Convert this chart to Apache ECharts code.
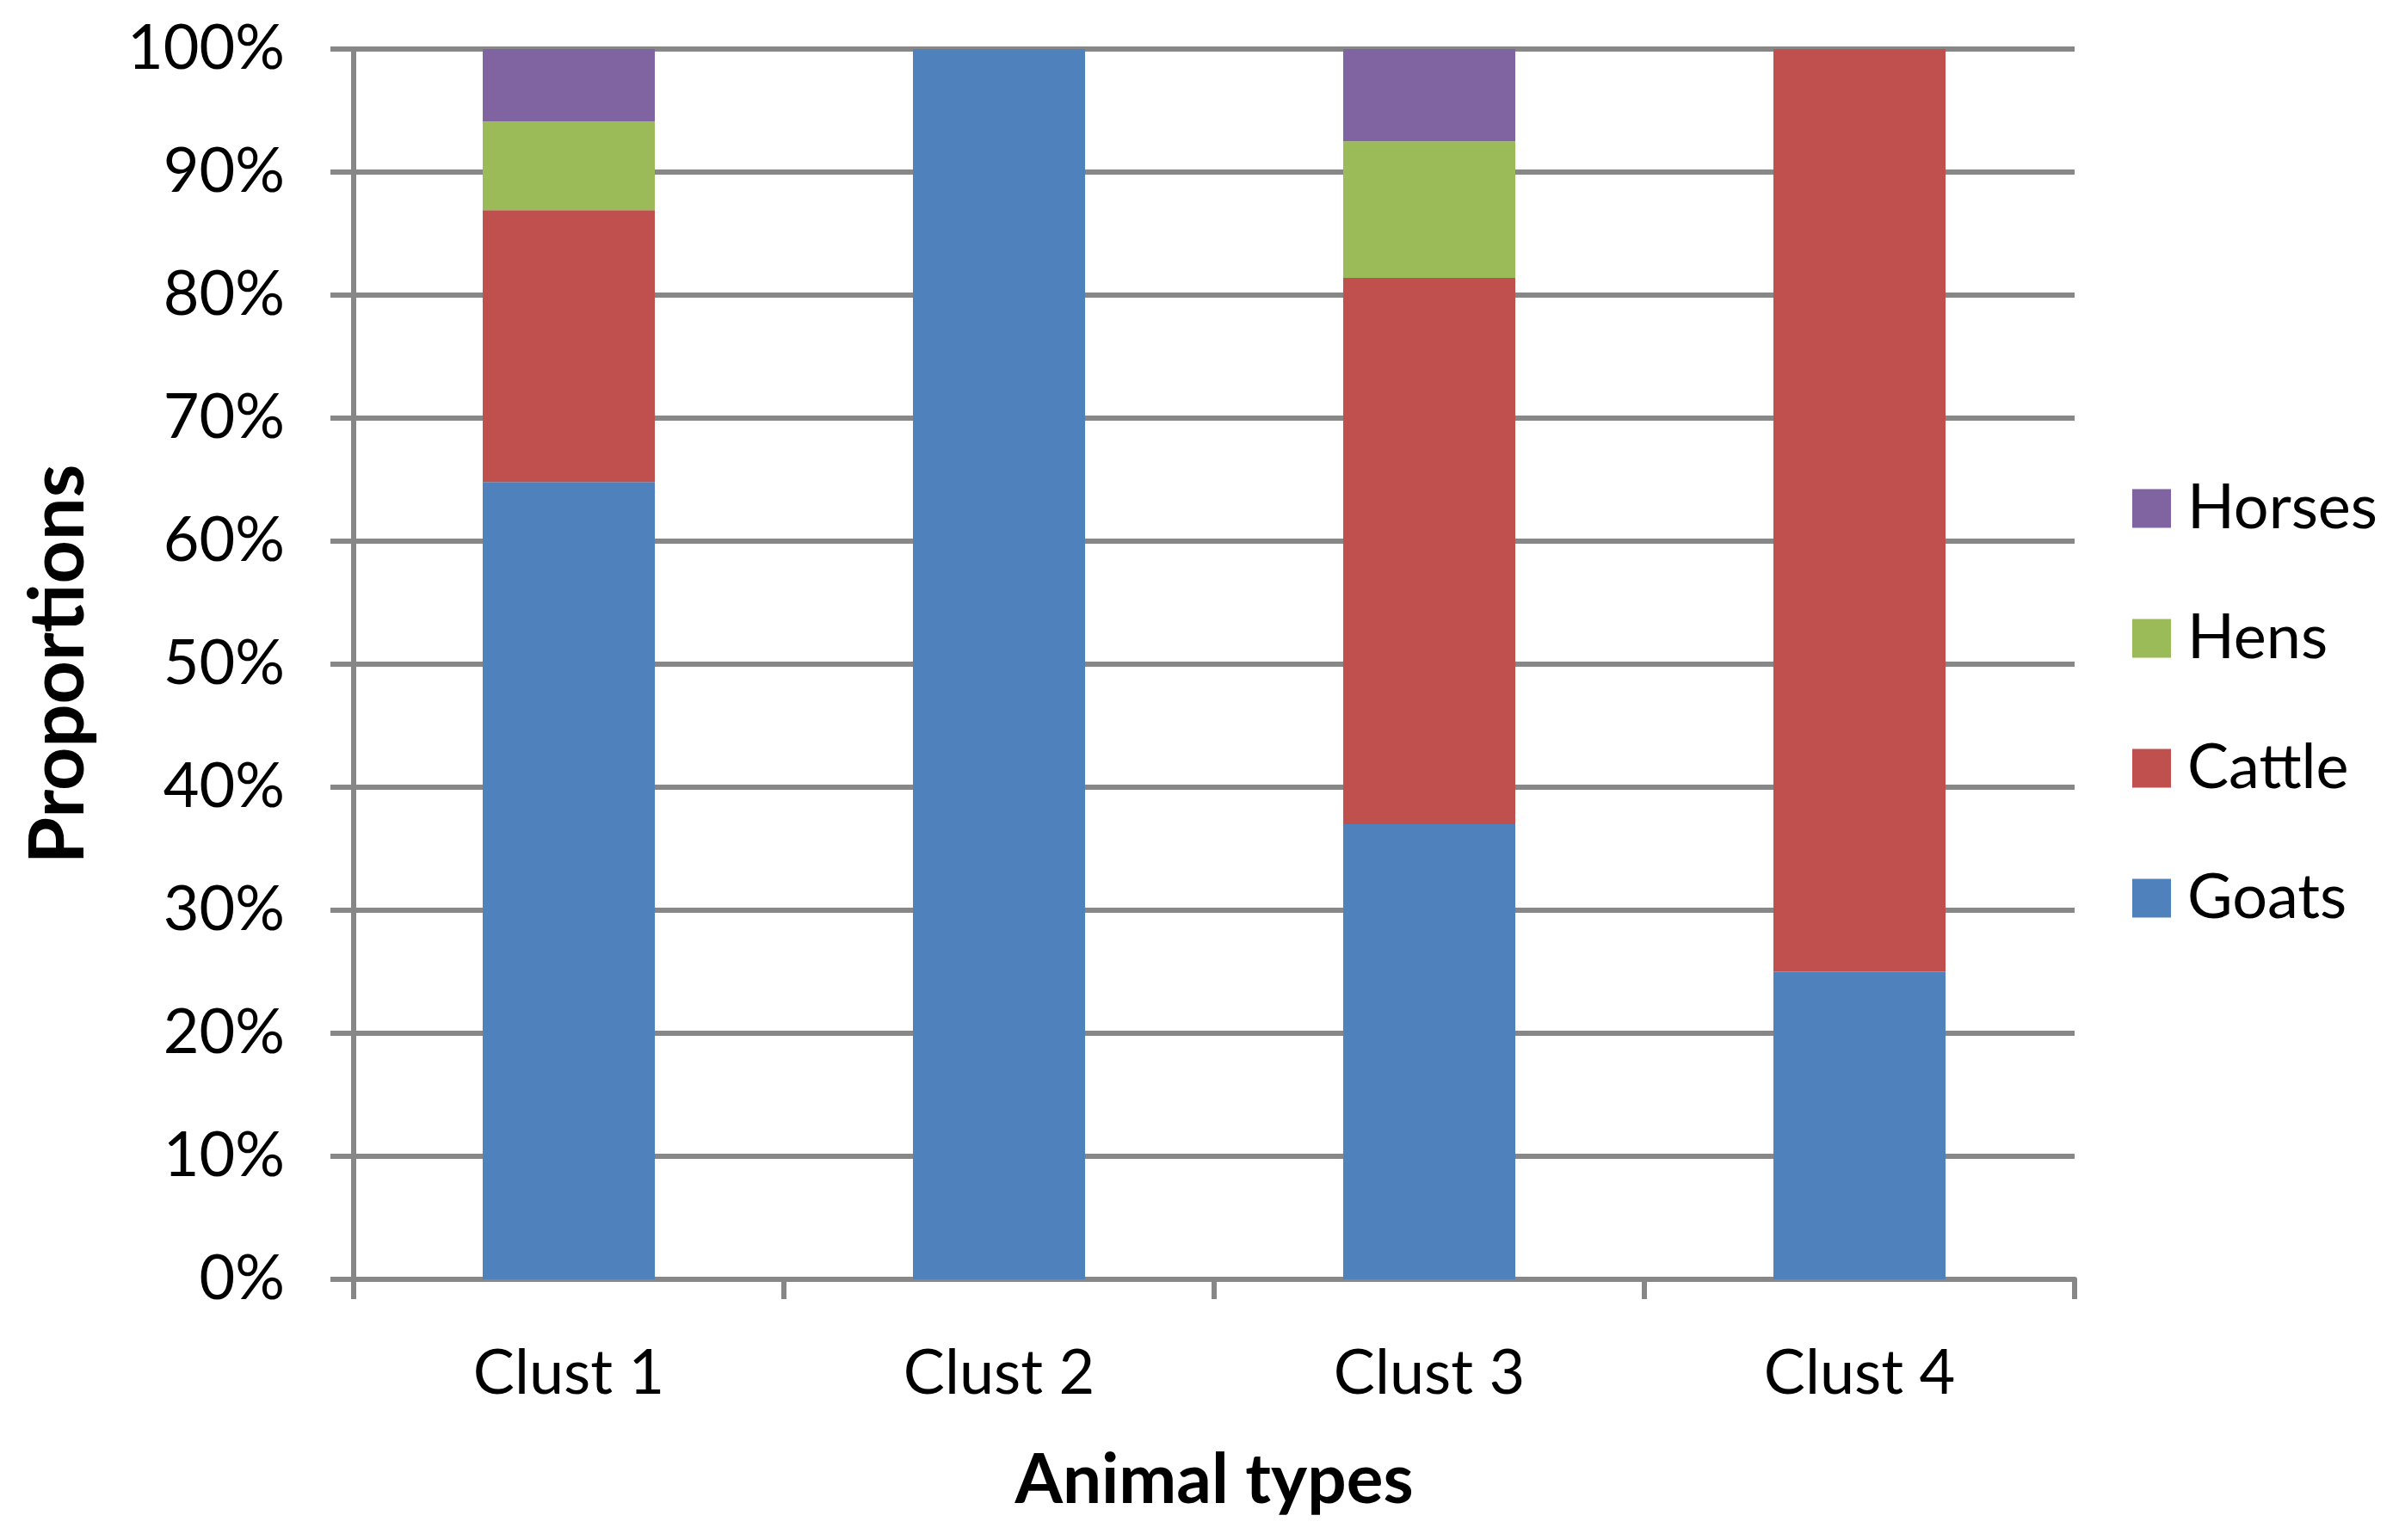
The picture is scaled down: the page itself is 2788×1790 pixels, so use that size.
<!DOCTYPE html>
<html>
<head>
<meta charset="utf-8">
<script src="https://cdn.jsdelivr.net/npm/echarts@6/dist/echarts.min.js"></script>
<style>
html,body{margin:0;padding:0;background:#fff;}
#chart{width:2788px;height:1790px;}
</style>
</head>
<body>
<div id="chart"></div>
<script>
const categories = ['Clust 1', 'Clust 2', 'Clust 3', 'Clust 4'];
const goats  = [64.8, 100, 37.0, 25.0];
const cattle = [22.1, 0, 44.4, 75.0];
const hens   = [7.2, 0, 11.1, 0];
const horses = [5.9, 0, 7.5, 0];
const legendOrder = ['Horses', 'Hens', 'Cattle', 'Goats'];

const FONT = 'Lato';
const GRAY = '#878787';

const chart = echarts.init(document.getElementById('chart'));
function bar(name, data, color) {
  return {
    name: name, type: 'bar', stack: 'total', data: data,
    barWidth: '40%',
    itemStyle: { color: color },
    emphasis: { disabled: true }
  };
}
chart.setOption({
  animation: false,
  backgroundColor: '#ffffff',
  textStyle: { fontFamily: FONT },
  grid: { left: 411, top: 57, width: 2000, height: 1430, containLabel: false },
  legend: {
    orient: 'vertical', left: 2473, top: 550,
    itemWidth: 45, itemHeight: 45, itemGap: 79,
    icon: 'rect',
    data: legendOrder,
    textStyle: { fontFamily: FONT, fontSize: 72, color: '#000', padding: [0, 0, 0, 14] }
  },
  xAxis: {
    type: 'category', data: categories,
    name: 'Animal types', nameLocation: 'middle', nameGap: 194,
    nameTextStyle: { fontFamily: FONT, fontSize: 80, fontWeight: 'bold', color: '#000' },
    axisLine: { show: true, lineStyle: { color: GRAY, width: 6 } },
    axisTick: { show: true, alignWithLabel: false, length: 23, lineStyle: { color: GRAY, width: 6 } },
    axisLabel: { fontFamily: FONT, fontSize: 72, color: '#000', margin: 74 },
    splitLine: { show: false }
  },
  yAxis: {
    type: 'value', min: 0, max: 100, interval: 10,
    name: 'Proportions', nameLocation: 'middle', nameGap: 298, nameRotate: 90,
    nameTextStyle: { fontFamily: FONT, fontSize: 88, fontWeight: 'bold', color: '#000' },
    axisLine: { show: true, lineStyle: { color: GRAY, width: 6 } },
    axisTick: { show: true, length: 27, lineStyle: { color: GRAY, width: 6 } },
    axisLabel: { fontFamily: FONT, fontSize: 72, color: '#000', margin: 80, formatter: '{value}%' },
    splitLine: { show: true, lineStyle: { color: GRAY, width: 6 } }
  },
  series: [
    bar('Goats', goats, '#4F81BD'),
    bar('Cattle', cattle, '#C0504D'),
    bar('Hens', hens, '#9BBB59'),
    bar('Horses', horses, '#8064A2')
  ]
});
</script>
</body>
</html>
